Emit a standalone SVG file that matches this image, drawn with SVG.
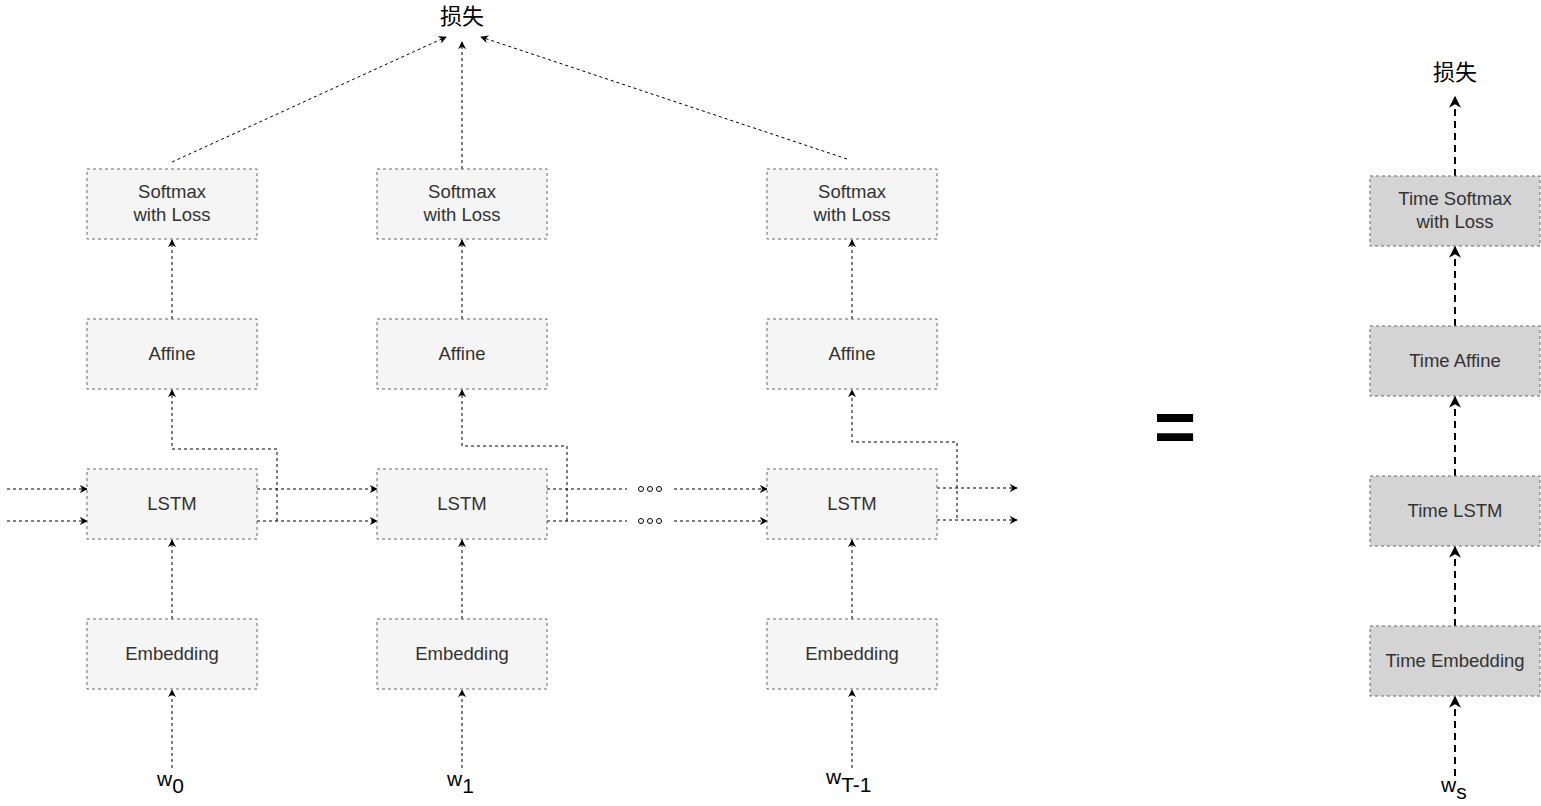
<svg xmlns="http://www.w3.org/2000/svg" width="1541" height="806" viewBox="0 0 1541 806">
<style>
.b{fill:#f5f5f5;stroke:#666;stroke-dasharray:3 3;stroke-width:1}
.g{fill:#d4d4d4;stroke:#666;stroke-dasharray:3 3;stroke-width:1}
.t{font-family:"Liberation Sans",Arial,sans-serif;font-size:18.5px;fill:#333;text-anchor:middle}
.c{fill:none;stroke:#000;stroke-width:1;stroke-dasharray:3 3}
.c2{fill:none;stroke:#000;stroke-width:2;stroke-dasharray:7 5}
.l{font-family:"Liberation Sans","Noto Sans CJK SC",sans-serif;font-size:22px;fill:#000;text-anchor:middle}
.w{font-family:"Liberation Sans",Arial,sans-serif;font-size:21px;fill:#000}
</style>
<defs>
<marker id="a" viewBox="0 0 10 10" refX="9" refY="5" markerWidth="8" markerHeight="8" markerUnits="userSpaceOnUse" orient="auto"><path d="M0,0 L10,5 L0,10 L3,5 Z" fill="#000"/></marker>
<marker id="a2" viewBox="0 0 10 10" refX="9" refY="5" markerWidth="6" markerHeight="6" orient="auto"><path d="M0,0 L10,5 L0,10 L3,5 Z" fill="#000"/></marker>
</defs>
<g id="connectors">
<path class="c" d="M172,162 L446,37" marker-end="url(#a)"/>
<path class="c" d="M462,169 L462,42" marker-end="url(#a)"/>
<path class="c" d="M847,159 L481,37" marker-end="url(#a)"/>
<path class="c" d="M172,319 L172,240" marker-end="url(#a)"/>
<path class="c" d="M462,319 L462,240" marker-end="url(#a)"/>
<path class="c" d="M852,319 L852,240" marker-end="url(#a)"/>
<path class="c" d="M277,521 L277,449 L172,449 L172,390" marker-end="url(#a)"/>
<path class="c" d="M567,521 L567,446 L462,446 L462,390" marker-end="url(#a)"/>
<path class="c" d="M957,518 L957,442 L852,442 L852,390" marker-end="url(#a)"/>
<path class="c" d="M172,619 L172,540" marker-end="url(#a)"/>
<path class="c" d="M462,619 L462,540" marker-end="url(#a)"/>
<path class="c" d="M852,619 L852,540" marker-end="url(#a)"/>
<path class="c" d="M172,768 L172,690" marker-end="url(#a)"/>
<path class="c" d="M462,768 L462,690" marker-end="url(#a)"/>
<path class="c" d="M852,768 L852,690" marker-end="url(#a)"/>
<path class="c" d="M7,489 L87,489" marker-end="url(#a)"/>
<path class="c" d="M7,521 L87,521" marker-end="url(#a)"/>
<path class="c" d="M257,489 L377,489" marker-end="url(#a)"/>
<path class="c" d="M257,521 L377,521" marker-end="url(#a)"/>
<path class="c" d="M547,489 L627,489"/>
<path class="c" d="M547,521 L627,521"/>
<path class="c" d="M674,489 L767,489" marker-end="url(#a)"/>
<path class="c" d="M674,521 L767,521" marker-end="url(#a)"/>
<path class="c" d="M937,488 L1017,488" marker-end="url(#a)"/>
<path class="c" d="M937,520 L1017,520" marker-end="url(#a)"/>
<path class="c2" d="M1455,176 L1455,97" marker-end="url(#a2)"/>
<path class="c2" d="M1455,326 L1455,247" marker-end="url(#a2)"/>
<path class="c2" d="M1455,476 L1455,397" marker-end="url(#a2)"/>
<path class="c2" d="M1455,626 L1455,547" marker-end="url(#a2)"/>
<path class="c2" d="M1455,776 L1455,697" marker-end="url(#a2)"/>
</g>
<g id="dots" fill="none" stroke="#000" stroke-width="1">
<circle cx="641" cy="489" r="2.5"/><circle cx="650" cy="489" r="2.5"/><circle cx="659" cy="489" r="2.5"/>
<circle cx="641" cy="521" r="2.5"/><circle cx="650" cy="521" r="2.5"/><circle cx="659" cy="521" r="2.5"/>
</g>
<g id="loss1"><text class="l" x="462" y="24">损失</text></g>
<g id="sm1"><rect class="b" x="87" y="169" width="170" height="70"/><text class="t" x="172" y="198">Softmax</text><text class="t" x="172" y="221">with Loss</text></g>
<g id="sm2"><rect class="b" x="377" y="169" width="170" height="70"/><text class="t" x="462" y="198">Softmax</text><text class="t" x="462" y="221">with Loss</text></g>
<g id="sm3"><rect class="b" x="767" y="169" width="170" height="70"/><text class="t" x="852" y="198">Softmax</text><text class="t" x="852" y="221">with Loss</text></g>
<g id="af1"><rect class="b" x="87" y="319" width="170" height="70"/><text class="t" x="172" y="360">Affine</text></g>
<g id="af2"><rect class="b" x="377" y="319" width="170" height="70"/><text class="t" x="462" y="360">Affine</text></g>
<g id="af3"><rect class="b" x="767" y="319" width="170" height="70"/><text class="t" x="852" y="360">Affine</text></g>
<g id="ls1"><rect class="b" x="87" y="469" width="170" height="70"/><text class="t" x="172" y="510">LSTM</text></g>
<g id="ls2"><rect class="b" x="377" y="469" width="170" height="70"/><text class="t" x="462" y="510">LSTM</text></g>
<g id="ls3"><rect class="b" x="767" y="469" width="170" height="70"/><text class="t" x="852" y="510">LSTM</text></g>
<g id="em1"><rect class="b" x="87" y="619" width="170" height="70"/><text class="t" x="172" y="660">Embedding</text></g>
<g id="em2"><rect class="b" x="377" y="619" width="170" height="70"/><text class="t" x="462" y="660">Embedding</text></g>
<g id="em3"><rect class="b" x="767" y="619" width="170" height="70"/><text class="t" x="852" y="660">Embedding</text></g>
<g id="w0"><text class="w" x="157" y="786">w<tspan dy="7">0</tspan></text></g>
<g id="w1"><text class="w" x="447" y="786">w<tspan dy="7">1</tspan></text></g>
<g id="wT"><text class="w" x="826" y="784">w<tspan dy="8">T-1</tspan></text></g>
<g id="eq"><text x="1175" y="451" font-family="Liberation Sans,Arial,sans-serif" font-weight="bold" font-size="72" text-anchor="middle" fill="#000">=</text></g>
<g id="loss2"><text class="l" x="1455" y="80">损失</text></g>
<g id="tsm"><rect class="g" x="1370" y="176" width="170" height="70"/><text class="t" x="1455" y="205">Time Softmax</text><text class="t" x="1455" y="228">with Loss</text></g>
<g id="taf"><rect class="g" x="1370" y="326" width="170" height="70"/><text class="t" x="1455" y="367">Time Affine</text></g>
<g id="tls"><rect class="g" x="1370" y="476" width="170" height="70"/><text class="t" x="1455" y="517">Time LSTM</text></g>
<g id="tem"><rect class="g" x="1370" y="626" width="170" height="70"/><text class="t" x="1455" y="667">Time Embedding</text></g>
<g id="ws"><text class="w" x="1441" y="792">w<tspan dy="7">s</tspan></text></g>
</svg>
